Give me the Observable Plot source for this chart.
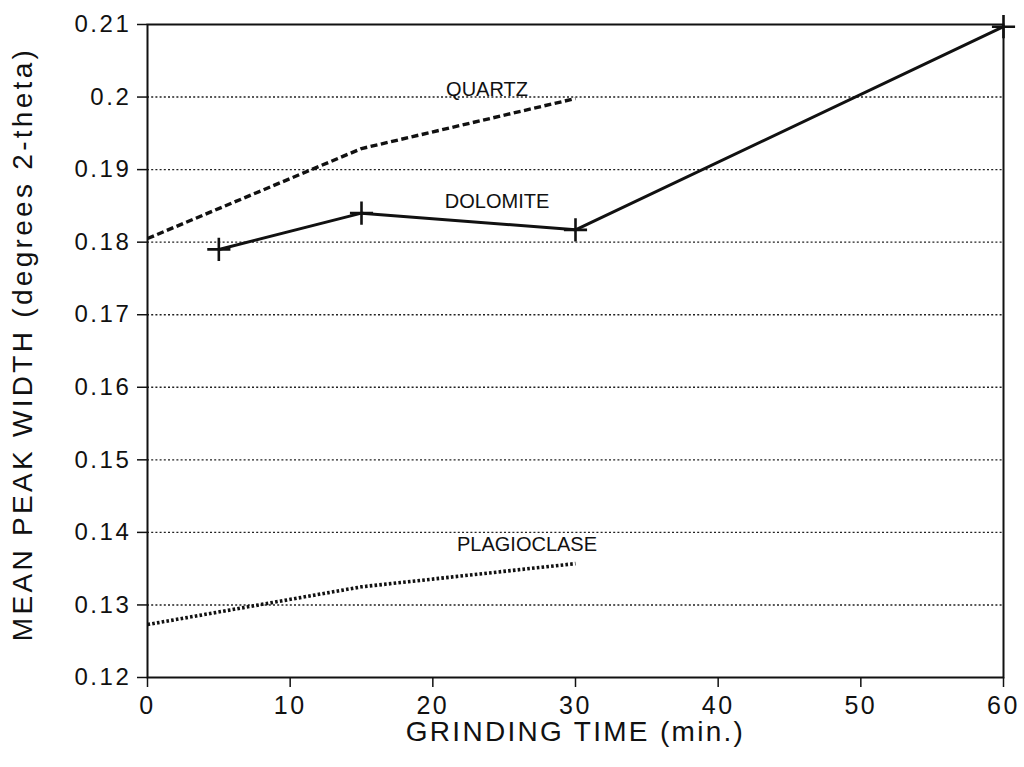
<!DOCTYPE html>
<html><head><meta charset="utf-8">
<script src="https://cdn.jsdelivr.net/npm/d3@7"></script>
<script src="https://cdn.jsdelivr.net/npm/@observablehq/plot@0.6"></script>
<style>
body{margin:0;background:#fff;}
svg{font-family:"Liberation Sans",Arial,Helvetica,sans-serif;}
</style>
</head><body><div id="chart"></div>
<script>
// ---- data ----
const xTicks = [0, 10, 20, 30, 40, 50, 60];
const yTicks = [0.12, 0.13, 0.14, 0.15, 0.16, 0.17, 0.18, 0.19, 0.2, 0.21];
const gridLevels = [0.13, 0.14, 0.15, 0.16, 0.17, 0.18, 0.19, 0.2];

const dolomiteTime = [5, 15, 30, 60];
const dolomiteWidth = [0.1790, 0.1840, 0.1817, 0.2097];
const quartzTime = [0, 15, 30];
const quartzWidth = [0.1805, 0.1929, 0.1998];
const plagioclaseTime = [0, 15, 30];
const plagioclaseWidth = [0.1273, 0.1325, 0.1357];

const labelNames = ["QUARTZ", "DOLOMITE", "PLAGIOCLASE"];
const labelTime = [23.8, 24.5, 26.6];
const labelWidth = [0.2010, 0.1856, 0.1383];

const xTitle = "GRINDING TIME (min.)";
const yTitle = "MEAN PEAK WIDTH (degrees 2-theta)";

const toRows = (xs, ys) => xs.map((x, i) => ({x, y: ys[i]}));
const dolomite = toRows(dolomiteTime, dolomiteWidth);
const quartz = toRows(quartzTime, quartzWidth);
const plagioclase = toRows(plagioclaseTime, plagioclaseWidth);
const labels = labelNames.map((t, i) => ({t, x: labelTime[i], y: labelWidth[i]}));

const chart = Plot.plot({
  width: 1024, height: 767,
  marginLeft: 147, marginRight: 21, marginTop: 24, marginBottom: 90,
  style: {background: "#fff", color: "#111"},
  x: {domain: [0, 60], label: null},
  y: {domain: [0.12, 0.21], label: null},
  marks: [
    Plot.ruleY(gridLevels, {stroke: "#222", strokeWidth: 1.4, strokeDasharray: "2,2.2"}),
    Plot.frame({stroke: "#111", strokeWidth: 2}),
    Plot.axisX({ticks: xTicks, tickSize: 10, tickPadding: 9, tickFormat: d => String(d), strokeWidth: 1.5}),
    Plot.axisY({ticks: yTicks, tickSize: 10, tickPadding: 6, tickFormat: d => String(d), strokeWidth: 1.5}),
    Plot.line(quartz, {x: "x", y: "y", stroke: "#111", strokeWidth: 3.4, strokeDasharray: "7,3.5", strokeLinecap: "butt"}),
    Plot.line(plagioclase, {x: "x", y: "y", stroke: "#111", strokeWidth: 3.6, strokeDasharray: "2.6,2.2", strokeLinecap: "butt"}),
    Plot.line(dolomite, {x: "x", y: "y", stroke: "#111", strokeWidth: 3}),
    Plot.dot(dolomite, {x: "x", y: "y", symbol: "plus", r: 7.5, stroke: "#111", strokeWidth: 2.6}),
    Plot.text(labels, {x: "x", y: "y", text: "t", fontSize: 20, fill: "#111"}),
    Plot.text([xTitle], {frameAnchor: "bottom", lineAnchor: "middle", textAnchor: "middle", dy: 55, fontSize: 28, fill: "#111"}),
    Plot.text([yTitle], {frameAnchor: "left", lineAnchor: "middle", textAnchor: "middle", rotate: -90, dx: -124, dy: -7, fontSize: 28, fill: "#111"})
  ]
});
document.getElementById("chart").appendChild(chart);

const svg = d3.select(chart);
svg.selectAll('g[aria-label="x-axis tick label"]').attr("font-size", 25);
svg.selectAll('g[aria-label="x-axis tick label"] text').style("letter-spacing", "2.5px");
svg.selectAll('g[aria-label="y-axis tick label"]').attr("font-size", 24);
svg.selectAll('g[aria-label="y-axis tick label"] text').style("letter-spacing", "2.6px");
const textGroups = svg.selectAll('g[aria-label="text"]').nodes();
d3.select(textGroups[1]).selectAll("text").style("letter-spacing", "2.3px");
d3.select(textGroups[2]).selectAll("text").style("letter-spacing", "3.3px");
</script>
</body></html>
